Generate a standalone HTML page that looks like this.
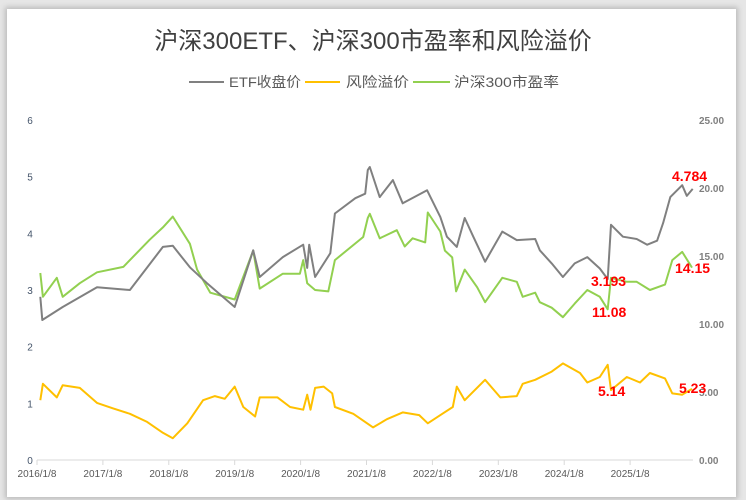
<!DOCTYPE html>
<html><head><meta charset="utf-8"><style>
body{margin:0;width:746px;height:500px;background:#e6e6e6;overflow:hidden;font-family:"Liberation Sans","Noto Sans CJK SC",sans-serif}
#card{position:absolute;left:7px;top:9px;width:729px;height:488px;background:#fff;box-shadow:0 0 5px 2px #bbb}
svg{position:absolute;left:0;top:0}
</style></head><body>
<div id="card"></div>
<svg id="chart" width="746" height="500">
<text x="373" y="49" text-anchor="middle" font-size="24" fill="#404040" font-family="Liberation Sans,Noto Sans CJK SC,sans-serif">沪深300ETF、沪深300市盈率和风险溢价</text>
<g font-size="14" fill="#595959">
<g><line x1="189" y1="82" x2="224" y2="82" stroke="#808080" stroke-width="2"/><text x="229" y="87" textLength="72" lengthAdjust="spacingAndGlyphs">ETF收盘价</text></g>
<g><line x1="305" y1="82" x2="340" y2="82" stroke="#FFC000" stroke-width="2"/><text x="346" y="87" textLength="63" lengthAdjust="spacingAndGlyphs">风险溢价</text></g>
<g><line x1="413" y1="82" x2="450" y2="82" stroke="#92D050" stroke-width="2"/><text x="454" y="87" textLength="105" lengthAdjust="spacingAndGlyphs">沪深300市盈率</text></g>
</g>
<g id="axes"></g>
<g id="series"></g>
<g id="labels" font-size="14" font-weight="bold" fill="#FF0000"></g>
</svg>
<script>
const leftTicks=[0,1,2,3,4,5,6];
const rightTicks=["0.00","5.00","10.00","15.00","20.00","25.00"];
const yearLabels=["2016/1/8","2017/1/8","2018/1/8","2019/1/8","2020/1/8","2021/1/8","2022/1/8","2023/1/8","2024/1/8","2025/1/8"];
const etfT=[0.05,0.08,0.39,0.91,1.41,1.91,2.06,2.32,2.58,3.00,3.28,3.38,3.73,4.04,4.10,4.13,4.22,4.45,4.52,4.83,4.98,5.02,5.05,5.20,5.40,5.55,5.92,6.12,6.22,6.37,6.49,6.62,6.80,7.06,7.28,7.56,7.63,7.81,7.98,8.16,8.35,8.54,8.66,8.71,8.89,9.10,9.26,9.41,9.50,9.61,9.79,9.86,9.95];
const etfV=[2.88,2.47,2.70,3.05,3.0,3.76,3.78,3.4,3.12,2.7,3.7,3.23,3.58,3.8,3.39,3.8,3.23,3.65,4.35,4.62,4.7,5.12,5.17,4.64,4.94,4.53,4.76,4.29,3.94,3.76,4.27,3.94,3.5,4.03,3.88,3.9,3.7,3.47,3.23,3.47,3.58,3.38,3.193,4.15,3.94,3.9,3.8,3.87,4.18,4.64,4.85,4.66,4.784];
const peT=[0.05,0.09,0.30,0.39,0.65,0.91,1.31,1.71,1.91,2.06,2.32,2.43,2.63,3.00,3.28,3.38,3.73,3.99,4.04,4.10,4.22,4.42,4.52,4.95,5.02,5.05,5.20,5.46,5.58,5.70,5.89,5.93,6.12,6.19,6.30,6.36,6.49,6.68,6.80,7.06,7.28,7.37,7.56,7.63,7.81,7.98,8.16,8.35,8.54,8.66,8.71,8.95,9.10,9.30,9.53,9.64,9.79,9.94];
const peV=[13.75,12.0,13.4,12.0,13.0,13.8,14.2,16.2,17.1,17.9,15.9,14.0,12.3,11.8,15.4,12.6,13.7,13.7,14.7,13.0,12.5,12.4,14.7,16.4,17.8,18.1,16.3,16.9,15.7,16.3,16.0,18.2,16.8,15.4,14.9,12.4,14.0,12.7,11.6,13.4,13.1,12.0,12.3,11.6,11.2,10.5,11.5,12.5,12.0,11.08,13.4,13.1,13.1,12.5,12.9,14.7,15.3,14.15];
const rpT=[0.05,0.09,0.30,0.39,0.65,0.91,1.15,1.41,1.67,1.91,2.06,2.28,2.52,2.70,2.85,3.00,3.13,3.31,3.38,3.65,3.84,4.04,4.10,4.15,4.22,4.35,4.48,4.52,4.80,5.10,5.31,5.55,5.80,5.93,6.15,6.31,6.37,6.49,6.80,7.03,7.28,7.37,7.56,7.81,7.98,8.24,8.35,8.54,8.66,8.71,8.95,9.15,9.30,9.53,9.64,9.79,9.94];
const rpV=[4.4,5.6,4.6,5.5,5.3,4.2,3.8,3.4,2.8,2.0,1.6,2.7,4.4,4.7,4.5,5.4,3.9,3.2,4.6,4.6,3.9,3.7,4.8,3.7,5.3,5.4,4.9,3.9,3.4,2.4,3.0,3.5,3.3,2.7,3.4,3.9,5.4,4.4,5.9,4.6,4.7,5.6,5.9,6.5,7.1,6.4,5.7,6.1,7.0,5.14,6.1,5.7,6.4,6.0,4.9,4.8,5.23];
const NS="http://www.w3.org/2000/svg";
const X=t=>37+t*65.9, YL=v=>460-v*340/6, YR=v=>460-v*340/25;
function mk(tag,attrs,parent,txt){const e=document.createElementNS(NS,tag);for(const k in attrs)e.setAttribute(k,attrs[k]);if(txt!==undefined)e.textContent=txt;parent.appendChild(e);return e;}
const ax=document.getElementById('axes');
let e=mk('line',{x1:37,y1:460,x2:693,y2:460,stroke:'#d9d9d9','stroke-width':1},ax);


leftTicks.forEach(v=>{const t=mk('text',{x:30,y:YL(v)+4,'font-size':10,fill:'#44546A','text-anchor':'middle'},ax,String(v));

});
rightTicks.forEach(s=>{const t=mk('text',{x:699,y:YR(parseFloat(s))+4,'font-size':10,'font-weight':'bold',fill:'#7f7f7f'},ax,s);

});
yearLabels.forEach((s,i)=>{const tk=mk('line',{x1:X(i),y1:460,x2:X(i),y2:465,stroke:'#d9d9d9'},ax);


const t=mk('text',{x:X(i),y:477,'font-size':10,fill:'#595959','text-anchor':'middle'},ax,s);

});
const sg=document.getElementById('series');
function line(T,V,Y,col,name){const p=mk('polyline',{points:T.map((t,i)=>X(t).toFixed(1)+','+Y(V[i]).toFixed(1)).join(' '),fill:'none',stroke:col,'stroke-width':2,'stroke-linejoin':'round'},sg);

}
line(rpT,rpV,YR,'#FFC000','risk-premium-line');
line(peT,peV,YR,'#92D050','pe-ratio-line');
line(etfT,etfV,YL,'#808080','etf-close-line');
const lg=document.getElementById('labels');
function lab(x,y,s,name){const t=mk('text',{x:x,y:y},lg,s);

}
lab(672,181,'4.784','label-etf-last');
lab(591,286,'3.193','label-etf-low');
lab(592,317,'11.08','label-pe-low');
lab(675,273,'14.15','label-pe-last');
lab(598,396,'5.14','label-rp-low');
lab(679,393,'5.23','label-rp-last');
</script>
</body></html>
